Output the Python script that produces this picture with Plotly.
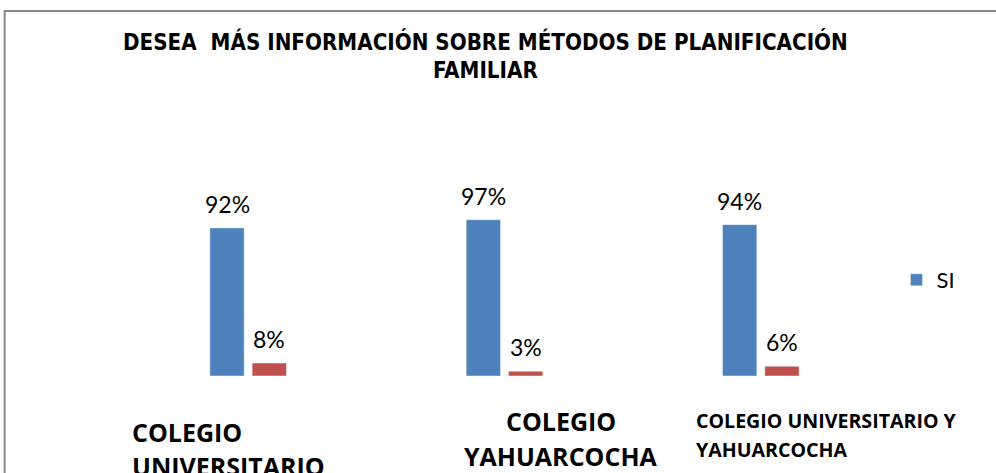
import plotly.graph_objects as go

categories = ["COLEGIO UNIVERSITARIO", "COLEGIO YAHUARCOCHA", "COLEGIO UNIVERSITARIO Y YAHUARCOCHA"]
si_values = [92, 97, 94]
no_values = [8, 3, 6]
si_labels = ["92%", "97%", "94%"]
no_labels = ["8%", "3%", "6%"]
title_lines = ["DESEA  MÁS INFORMACIÓN SOBRE MÉTODOS DE PLANIFICACIÓN", "FAMILIAR"]

W, H = 996, 473
PL, PR = 119.5, 889.5
PB, PT = 376, 215


def px(x):
    return (x - PL) / (PR - PL)


def py(y):
    return (PB - y) / (PB - PT)


BOLD = "Liberation Sans Narrow, DejaVu Sans Condensed, Arial Narrow, sans-serif"
REG = "Lato, Carlito, Calibri, sans-serif"
CATF = "Open Sans, Lato, sans-serif"

fig = go.Figure()
fig.add_bar(x=categories, y=si_values, name="SI", marker_color="#4F81BD")
fig.add_bar(x=categories, y=no_values, name="NO", marker_color="#C0504D", showlegend=False)

for vals, labs, shift in ((si_values, si_labels, -21), (no_values, no_labels, 21)):
    for c, v, t in zip(categories, vals, labs):
        fig.add_annotation(x=c, y=v, text=t, showarrow=False, xshift=shift, yshift=24,
                           yanchor="middle", font=dict(family=REG, size=23, color="#000"))

fig.update_layout(
    width=W, height=H,
    margin=dict(l=PL, r=W - PR, t=PT, b=H - PB, autoexpand=False),
    paper_bgcolor="white", plot_bgcolor="white",
    barmode="group", bargap=0.67, bargroupgap=0.19,
    showlegend=True,
    legend=dict(x=px(897), y=py(280), yanchor="middle", xanchor="left",
                font=dict(family=REG, size=22, color="#000"),
                bgcolor="rgba(0,0,0,0)"),
    xaxis=dict(showticklabels=False, showgrid=False, zeroline=False, showline=False),
    yaxis=dict(range=[0, 100], visible=False),
)

# frame
fig.add_shape(type="rect", xref="paper", yref="paper",
              x0=px(4), x1=px(1000), y0=py(11), y1=py(480),
              line=dict(color="#8a8a8a", width=2), layer="below")

# title
fig.add_annotation(text="<b>" + title_lines[0] + "</b>", xref="paper", yref="paper",
                   x=px(485), y=py(41), showarrow=False, xanchor="center", yanchor="middle",
                   font=dict(family=BOLD, size=22.2, color="#000"))
fig.add_annotation(text="<b>" + title_lines[1] + "</b>", xref="paper", yref="paper",
                   x=px(485), y=py(70), showarrow=False, xanchor="center", yanchor="middle",
                   font=dict(family=BOLD, size=22.2, color="#000"))

# category labels
fig.add_annotation(text="<b>COLEGIO</b>", xref="paper", yref="paper",
                   x=px(130), y=py(432), showarrow=False, xanchor="left", yanchor="middle",
                   font=dict(family=CATF, size=25, color="#000"))
fig.add_annotation(text="<b>UNIVERSITARIO</b>", xref="paper", yref="paper",
                   x=px(130), y=py(466), showarrow=False, xanchor="left", yanchor="middle",
                   font=dict(family=CATF, size=25, color="#000"))
fig.add_annotation(text="<b>COLEGIO</b>", xref="paper", yref="paper",
                   x=px(561), y=py(421), showarrow=False, xanchor="center", yanchor="middle",
                   font=dict(family=CATF, size=25, color="#000"))
fig.add_annotation(text="<b>YAHUARCOCHA</b>", xref="paper", yref="paper",
                   x=px(561), y=py(456), showarrow=False, xanchor="center", yanchor="middle",
                   font=dict(family=CATF, size=25, color="#000"))
fig.add_annotation(text="<b>COLEGIO UNIVERSITARIO Y</b>", xref="paper", yref="paper",
                   x=px(694), y=py(420), showarrow=False, xanchor="left", yanchor="middle",
                   font=dict(family=CATF, size=19.6, color="#000"))
fig.add_annotation(text="<b>YAHUARCOCHA</b>", xref="paper", yref="paper",
                   x=px(694), y=py(449), showarrow=False, xanchor="left", yanchor="middle",
                   font=dict(family=CATF, size=19.6, color="#000"))

fig.write_html("out.html", config={"displayModeBar": False},
               post_script="document.body.style.margin='0';document.body.style.overflow='hidden';")
